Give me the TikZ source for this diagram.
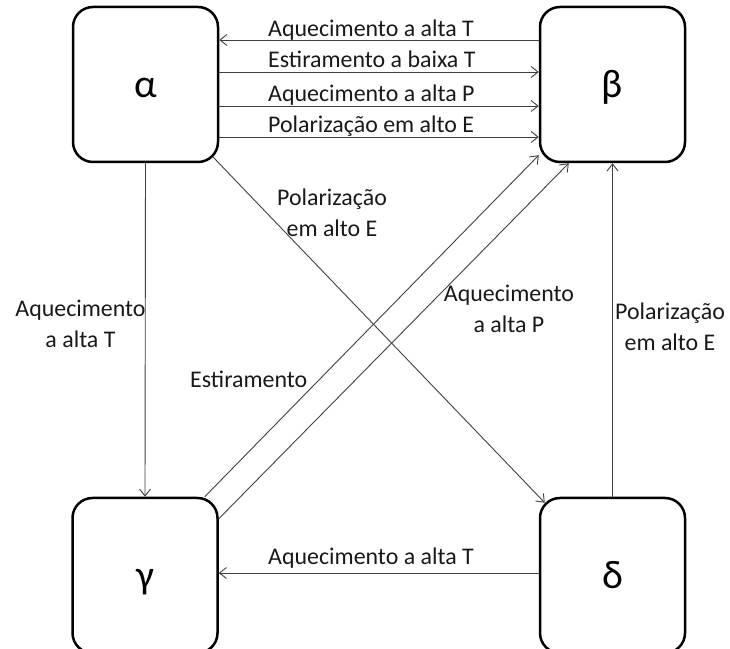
\documentclass[tikz,border=0pt]{standalone}
\usepackage{fontspec}
\setmainfont{Carlito}
\usetikzlibrary{arrows.meta}
\begin{document}
\begin{tikzpicture}[>={Straight Barb[length=7bp,width=11bp]},line join=bevel,
  phasebox/.style={draw=black,line width=2.5bp,rounded corners=20bp,minimum width=145bp,minimum height=155bp,inner sep=0bp,text height=27bp,text depth=0bp,font=\fontsize{40}{40}\selectfont},
  ruletext/.style={inner sep=0bp,text=black!90,align=center,font=\fontsize{24}{31}\selectfont},
  edge/.style={draw=black!75,line width=0.9bp},]
%%
\useasboundingbox (0bp,0bp) rectangle (730bp,649bp);
\node (node_alpha) at (145.5bp,564.5bp) [phasebox] {α};
  \node (node_beta) at (612.5bp,564.5bp) [phasebox] {β};
  \node (node_gamma) at (145bp,73.5bp) [phasebox] {γ};
  \node (node_delta) at (612.5bp,73.5bp) [phasebox] {δ};
  \node (lab_0) at (268bp,612bp) [ruletext,anchor=base west] {Aquecimento a alta T};
  \node (lab_1) at (268bp,581bp) [ruletext,anchor=base west] {Estiramento a baixa T};
  \node (lab_2) at (268bp,547bp) [ruletext,anchor=base west] {Aquecimento a alta P};
  \node (lab_3) at (268bp,516bp) [ruletext,anchor=base west] {Polarização em alto E};
  \node (lab_4) at (332bp,436.5bp) [ruletext] {Polarização\\em alto E};
  \node (lab_5) at (80.5bp,325bp) [ruletext] {Aquecimento\\a alta T};
  \node (lab_6) at (509bp,340bp) [ruletext] {Aquecimento\\a alta P};
  \node (lab_7) at (670bp,322.5bp) [ruletext] {Polarização\\em alto E};
  \node (lab_8) at (190bp,261bp) [ruletext,anchor=base west] {Estiramento};
  \node (lab_9) at (268bp,84bp) [ruletext,anchor=base west] {Aquecimento a alta T};
  \draw [edge,->] ([yshift=44.5bp]node_beta.west) -- ([yshift=44.5bp]node_alpha.east);
  \draw [edge,->] ([yshift=12.5bp]node_alpha.east) -- ([yshift=12.5bp]node_beta.west);
  \draw [edge,->] ([yshift=-21.5bp]node_alpha.east) -- ([yshift=-21.5bp]node_beta.west);
  \draw [edge,->] ([yshift=-52.5bp]node_alpha.east) -- ([yshift=-52.5bp]node_beta.west);
  \draw [edge,->] (node_alpha.south) -- (node_gamma.north);
  \draw [edge,->] ([shift={(-6bp,6bp)}]node_alpha.south east) -- ([shift={(6bp,-6bp)}]node_delta.north west);
  \draw [edge,->] ([xshift=-14bp]node_gamma.north east) -- ([yshift=8bp]node_beta.south west);
  \draw [edge,->] ([yshift=-22bp]node_gamma.north east) -- ([xshift=30bp]node_beta.south west);
  \draw [edge,->] (node_delta.north) -- (node_beta.south);
  \draw [edge,->] ([yshift=2.5bp]node_delta.west) -- ([yshift=2.5bp]node_gamma.east);
%
\end{tikzpicture}
\end{document}
